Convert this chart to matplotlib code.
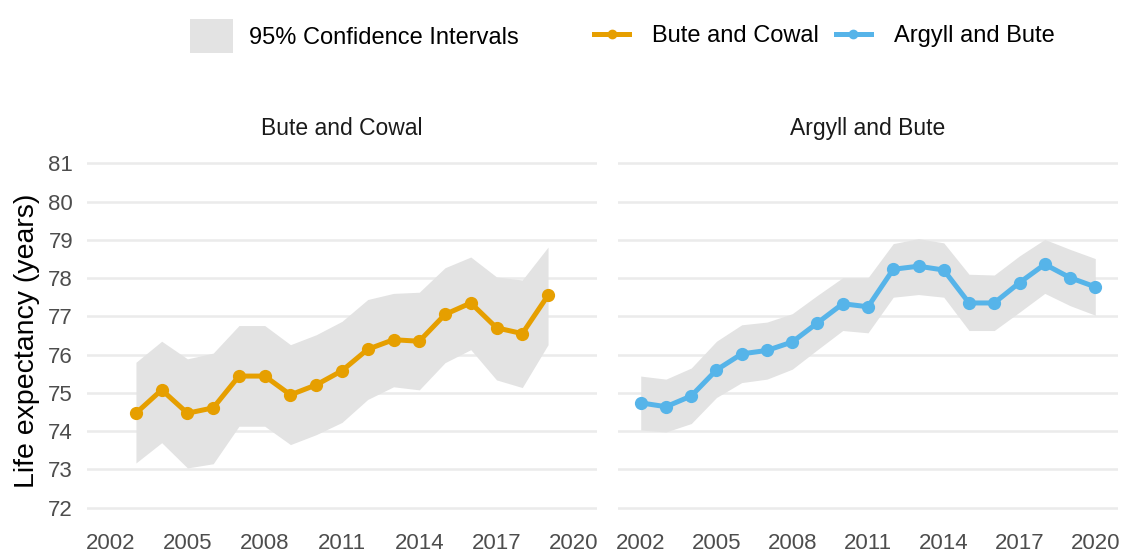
"""Life expectancy trends with 95% CIs: Bute and Cowal vs Argyll and Bute."""

import matplotlib
matplotlib.use("Agg")
import matplotlib.pyplot as plt
from matplotlib.lines import Line2D
from matplotlib.patches import Patch

plt.rcParams["font.family"] = ["Liberation Sans", "DejaVu Sans"]

# Bute and Cowal (2003-2019)
bc_years = list(range(2003, 2020))
bc_value = [74.47, 75.08, 74.47, 74.61, 75.44, 75.44, 74.95, 75.21, 75.58,
            76.14, 76.39, 76.35, 77.05, 77.35, 76.70, 76.55, 77.55]
bc_upper = [75.80, 76.35, 75.89, 76.04, 76.76, 76.76, 76.26, 76.52, 76.87,
            77.44, 77.60, 77.63, 78.27, 78.55, 78.03, 77.95, 78.81]
bc_lower = [73.17, 73.70, 73.04, 73.15, 74.13, 74.13, 73.65, 73.91, 74.23,
            74.83, 75.16, 75.08, 75.79, 76.13, 75.34, 75.14, 76.26]

# Argyll and Bute (2002-2020)
ab_years = list(range(2002, 2021))
ab_value = [74.74, 74.64, 74.92, 75.60, 76.02, 76.11, 76.33, 76.83, 77.33, 77.25,
            78.23, 78.31, 78.21, 77.35, 77.35, 77.88, 78.36, 78.01, 77.77]
ab_upper = [75.44, 75.36, 75.65, 76.35, 76.78, 76.85, 77.07, 77.55, 78.01, 78.01,
            78.90, 79.03, 78.92, 78.10, 78.08, 78.58, 79.01, 78.75, 78.51]
ab_lower = [74.03, 73.98, 74.20, 74.88, 75.27, 75.36, 75.62, 76.13, 76.63, 76.57,
            77.50, 77.57, 77.50, 76.63, 76.63, 77.11, 77.60, 77.28, 77.03]

x_ticks = [2002, 2005, 2008, 2011, 2014, 2017, 2020]
y_ticks = list(range(72, 82))

ORANGE = "#E69F00"
BLUE = "#56B4E9"
CI_GREY = "#e3e3e3"
GRID = "#ebebeb"
TICK_COL = "#4d4d4d"

W, H = 1141, 557
fig = plt.figure(figsize=(W / 100, H / 100), dpi=100)

bottom = (H - 525) / H
height = (525 - 146) / H
ax_left = fig.add_axes([87 / W, bottom, 510 / W, height])
ax_right = fig.add_axes([618 / W, bottom, 500 / W, height])

panels = [
    (ax_left, "Bute and Cowal", bc_years, bc_value, bc_lower, bc_upper, ORANGE),
    (ax_right, "Argyll and Bute", ab_years, ab_value, ab_lower, ab_upper, BLUE),
]

for ax, title, yrs, val, lo, hi, col in panels:
    ax.fill_between(yrs, lo, hi, color=CI_GREY, lw=0, zorder=1)
    ax.plot(yrs, val, color=col, lw=3.6, marker="o", ms=8.5, zorder=3)
    ax.set_xlim(2001.1, 2020.9)
    ax.set_ylim(71.55, 81.45)
    ax.set_xticks(x_ticks)
    ax.set_yticks(y_ticks)
    ax.grid(axis="y", color=GRID, lw=1.8, zorder=0)
    ax.grid(axis="x", visible=False)
    ax.set_axisbelow(True)
    for s in ax.spines.values():
        s.set_visible(False)
    ax.tick_params(length=0, labelsize=16, labelcolor=TICK_COL)
    ax.tick_params(axis="x", pad=6)
    ax.tick_params(axis="y", pad=10)
    ax.set_title(title, fontsize=16.5, color="#1a1a1a", pad=8)

ax_right.tick_params(labelleft=False)

fig.text(27 / W, 1 - 341 / H, "Life expectancy (years)", rotation=90,
         ha="center", va="center", fontsize=20.5, color="black")

ci_handle = [Patch(facecolor=CI_GREY, edgecolor="none")]
fig.legend(ci_handle, ["95% Confidence Intervals"], loc="center left",
           bbox_to_anchor=(190 / W, 1 - 36 / H), frameon=False, fontsize=17,
           handlelength=1.8, handleheight=1.85, handletextpad=0.68,
           borderpad=0, borderaxespad=0)

line_handles = [
    Line2D([], [], color=ORANGE, lw=3.6, marker="o", ms=6),
    Line2D([], [], color=BLUE, lw=3.6, marker="o", ms=6),
]
fig.legend(line_handles, ["Bute and Cowal", "Argyll and Bute"], ncol=2,
           loc="center left", bbox_to_anchor=(594 / W, 1 - 36 / H),
           frameon=False, fontsize=17, handlelength=1.5, handletextpad=0.95,
           columnspacing=0.72, borderpad=0, borderaxespad=0)

fig.savefig("out.png", dpi=100)
